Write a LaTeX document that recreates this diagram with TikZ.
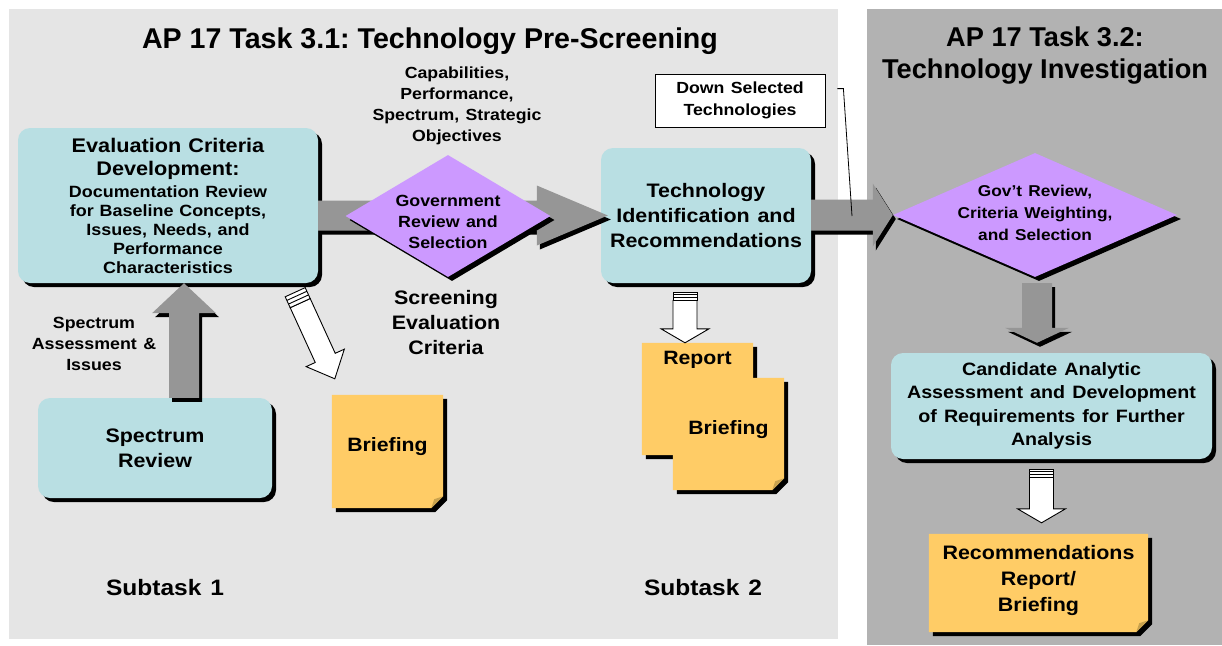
\documentclass[tikz,border=0pt]{standalone}
\usepackage{fontspec}
\setmainfont{Liberation Sans}
\newfontfamily\widesans[FakeStretch=1.1,WordSpace=1.3]{Liberation Sans}
\usetikzlibrary{calc,shapes.geometric,shadows}
\definecolor{panelL}{HTML}{E5E5E5}
\definecolor{panelR}{HTML}{B2B2B2}
\definecolor{boxblue}{HTML}{B9DFE3}
\definecolor{diampurple}{HTML}{CC99FF}
\definecolor{noteyellow}{HTML}{FFCC66}
\definecolor{notefold}{HTML}{C9A24E}
\definecolor{arrowgray}{HTML}{969696}
\newcommand\setfs[2]{\fontsize{#1}{#2}\selectfont}
\newcommand\fixsp{\spaceskip=.36em\xspaceskip=.36em\relax}
\pgfdeclarelayer{back}\pgfdeclarelayer{boxes}\pgfdeclarelayer{arrows}
\pgfsetlayers{back,boxes,arrows,main}
\tikzset{
  blkshadow/.style={drop shadow={shadow xshift=4pt, shadow yshift=-4pt, fill=black, opacity=1}},
  bluebox/.style={rounded corners=12pt, fill=boxblue, draw=none, align=center, inner sep=0pt, font=\widesans\bfseries, blkshadow},
  diam/.style={diamond, fill=diampurple, draw=none, inner sep=0pt, blkshadow},
  lbl/.style={align=center, inner sep=0pt, font=\widesans\bfseries},
  notebox/.style={inner sep=0pt, draw=none},
  hollow/.style={draw=black, fill=white, line width=0.9pt, line join=miter},
}
% block arrow: #1 options, #2 start, #3 tip, #4 half shaft, #5 head length, #6 half head
\newcommand\blkarrow[6]{%
  \path ($(#3)!#5!(#2)$) coordinate (bkH);
  \fill[#1] ($(#2)!#4!90:(#3)$) -- ($(bkH)!#4!90:(#3)$) -- ($(bkH)!#6!90:(#3)$) -- (#3)
     -- ($(bkH)!#6!-90:(#3)$) -- ($(bkH)!#4!-90:(#3)$) -- ($(#2)!#4!-90:(#3)$) -- cycle;}
% hollow arrow: #1 start, #2 tip, #3 half shaft, #4 head length, #5 half head, #6 stripe length
\newcommand\hollowarrow[6]{%
  \path ($(#2)!#4!(#1)$) coordinate (hoH) ($(#1)!#6!(#2)$) coordinate (hoS)
        ($(#1)!0.333!(hoS)$) coordinate (hoSa) ($(#1)!0.667!(hoS)$) coordinate (hoSb);
  \filldraw[hollow] ($(hoS)!#3!90:(#2)$) -- ($(hoH)!#3!90:(#2)$) -- ($(hoH)!#5!90:(#2)$) -- (#2)
     -- ($(hoH)!#5!-90:(#2)$) -- ($(hoH)!#3!-90:(#2)$) -- ($(hoS)!#3!-90:(#2)$) -- cycle;
  \filldraw[hollow] ($(#1)!#3!90:(#2)$) -- ($(#1)!#3!-90:(#2)$) -- ($(hoS)!#3!-90:(#2)$) -- ($(hoS)!#3!90:(#2)$) -- cycle;
  \draw[hollow] ($(hoSa)!#3!90:(#2)$) -- ($(hoSa)!#3!-90:(#2)$) ($(hoSb)!#3!90:(#2)$) -- ($(hoSb)!#3!-90:(#2)$);}
% note with folded corner drawn from a node's anchors
\newcommand\drawnote[1]{%
  \fill[black] ($(#1.north west)+(4,4)$) -- ($(#1.north east)+(4,4)$) -- ($(#1.south east)+(4,-8)$)
     -- ($(#1.south east)+(-8,4)$) -- ($(#1.south west)+(4,4)$) -- cycle;
  \fill[noteyellow] (#1.north west) -- (#1.north east) -- ($(#1.south east)+(0,-12)$)
     -- ($(#1.south east)+(-12,0)$) -- (#1.south west) -- cycle;
  \fill[notefold] ($(#1.south east)+(0,-12)$) -- ($(#1.south east)+(-12,0)$) -- ($(#1.south east)+(-9,-9)$) -- cycle;}
\begin{document}
\frenchspacing
\begin{tikzpicture}[x=1pt,y=-1pt]
\useasboundingbox (0,0) rectangle (1222,645);
\begin{pgfonlayer}{back}
  \fill[white] (0,0) rectangle (1222,645);
  \fill[panelL] (9,9) rectangle (838,639);
  \fill[panelR] (867,9) rectangle (1222,645);
\end{pgfonlayer}

% titles
\node[lbl, font=\bfseries\setfs{28.6}{32}] (t1) at (430,41) {AP 17 Task 3.1: Technology Pre-Screening};
\node[lbl, font=\bfseries\setfs{27.2}{32}] (t2) at (1045,56) {AP 17 Task 3.2:\\Technology Investigation};

% process boxes
\begin{pgfonlayer}{boxes}
\node[bluebox, minimum width=300pt, minimum height=155pt, text width=292pt] (eval) at (168,205.5)
  {\setfs{19.7}{23}\fixsp Evaluation Criteria\\Development:\par\vspace{3pt}\setfs{16.3}{19}\fixsp Documentation Review\\for Baseline Concepts,\\Issues, Needs, and\\Performance\\Characteristics\par};
\node[bluebox, minimum width=234pt, minimum height=100pt, font=\widesans\bfseries\setfs{19.5}{25}] (spec) at (155,448) {Spectrum\\Review};
\node[bluebox, minimum width=210pt, minimum height=135pt, font=\widesans\bfseries\setfs{19.5}{25}] (tech) at (706,215.5) {Technology\\Identification and\\Recommendations};
\node[bluebox, minimum width=321pt, minimum height=106pt, font=\widesans\bfseries\setfs{17.9}{23.5}] (cand) at (1051.5,406) {Candidate Analytic\\Assessment and Development\\of Requirements for Further\\Analysis};
\end{pgfonlayer}

% decision diamonds
\node[diam, minimum width=205pt, minimum height=122pt] (gov1) at (448,216) {};
\node[lbl, font=\widesans\bfseries\setfs{16.2}{21}] at ($(gov1)+(0,6)$) {Government\\Review and\\Selection};
\node[diam, minimum width=284pt, minimum height=124pt] (gov2) at (1035,215) {};
\node[lbl, font=\widesans\bfseries\setfs{15.7}{22}] at ($(gov2)+(0,-2)$) {Gov’t Review,\\Criteria Weighting,\\and Selection};

% notes
\node[notebox, minimum width=111pt, minimum height=113pt] (brief1) at (387.5,451.5) {};
\node[notebox, minimum width=111pt, minimum height=112pt] (report) at (697.5,399) {};
\node[notebox, minimum width=111pt, minimum height=112pt] (brief2) at (728.5,434) {};
\node[notebox, minimum width=219pt, minimum height=98pt] (rec) at (1038.5,583) {};
\begin{pgfonlayer}{boxes}
  \drawnote{brief1}
  \drawnote{report}
  \drawnote{brief2}
  \drawnote{rec}
\end{pgfonlayer}
\node[lbl, font=\widesans\bfseries\setfs{19.3}{26}] at ($(brief1)+(0,-5)$) {Briefing};
\node[lbl, font=\widesans\bfseries\setfs{19.3}{26}] at ($(report)+(0,-39)$) {Report};
\node[lbl, font=\widesans\bfseries\setfs{19.3}{26}] at ($(brief2)+(0,-4)$) {Briefing};
\node[lbl, font=\widesans\bfseries\setfs{19.5}{26}] at ($(rec)+(0,-3)$) {Recommendations\\Report/\\Briefing};

% free labels
\node[lbl, font=\widesans\bfseries\setfs{16.1}{21}] (caps) at (457,106) {Capabilities,\\Performance,\\Spectrum, Strategic\\Objectives};
\node[lbl, font=\widesans\bfseries\setfs{19.5}{25}] (scr) at (446,323) {Screening\\Evaluation\\Criteria};
\node[lbl, font=\widesans\bfseries\setfs{16.2}{21}] (sai) at (94,344) {Spectrum\\Assessment \&\\Issues};
\node[lbl, font=\widesans\bfseries\setfs{22.3}{25}] (st1) at (165,588) {Subtask 1};
\node[lbl, font=\widesans\bfseries\setfs{22.3}{25}] (st2) at (703,588) {Subtask 2};
\node[draw=black, line width=0.8pt, fill=white, minimum width=170pt, minimum height=53pt, inner sep=0pt, align=center, font=\widesans\bfseries\setfs{16.1}{22}] (ds) at (740,100.5) {Down Selected\\Technologies};
\coordinate (dsend) at (852,216);
\draw[line width=0.8pt] ($(ds.north east)+(12,15)$) -- ++(6,0) -- (dsend);

% connector coordinates
\coordinate (a1s) at (eval.east |- tech.west);
\coordinate (a1e) at ($(tech.west)+(7,0)$);
\coordinate (a2s) at (tech.east |- gov2.west);
\coordinate (a2e) at (gov2.west);
\coordinate (a3s) at ($(spec.north)+(29,0)$);
\coordinate (a3e) at (a3s |- eval.south);
\coordinate (a4s) at ($(gov2.south)+(2,6)$);
\coordinate (a4e) at ($(a4s |- cand.north)+(0,-10)$);

\begin{pgfonlayer}{arrows}
  \begin{scope}[transform canvas={shift={(3,4)}}]
    \blkarrow{black}{a1s}{a1e}{15pt}{71pt}{30pt}
    \blkarrow{black}{a2s}{a2e}{15.5pt}{20pt}{31.5pt}
    \blkarrow{black}{a3s}{a3e}{15pt}{30pt}{32pt}
    \blkarrow{black}{a4s}{a4e}{15pt}{15pt}{32pt}
  \end{scope}
  \blkarrow{arrowgray}{a1s}{a1e}{15pt}{71pt}{30pt}
  \blkarrow{arrowgray}{a2s}{a2e}{15.5pt}{20pt}{31.5pt}
  \blkarrow{arrowgray}{a3s}{a3e}{15pt}{30pt}{32pt}
  \blkarrow{arrowgray}{a4s}{a4e}{15pt}{15pt}{32pt}
\end{pgfonlayer}

% hollow output arrows
\coordinate (h1s) at ($(eval.south east)+(-23,9)$);
\coordinate (h1e) at ($(brief1.north west)+(3,-16)$);
\coordinate (h2s) at ($(tech.south)+(-21,9)$);
\coordinate (h2e) at (h2s |- report.north);
\coordinate (h3s) at ($(cand.south)+(-10,10)$);
\coordinate (h3e) at ($(h3s |- rec.north)+(0,-11)$);
\hollowarrow{h1s}{h1e}{11pt}{23pt}{21pt}{12pt}
\hollowarrow{h2s}{h2e}{12pt}{14pt}{24pt}{8pt}
\hollowarrow{h3s}{h3e}{12pt}{14pt}{24pt}{8pt}
\end{tikzpicture}
\end{document}
